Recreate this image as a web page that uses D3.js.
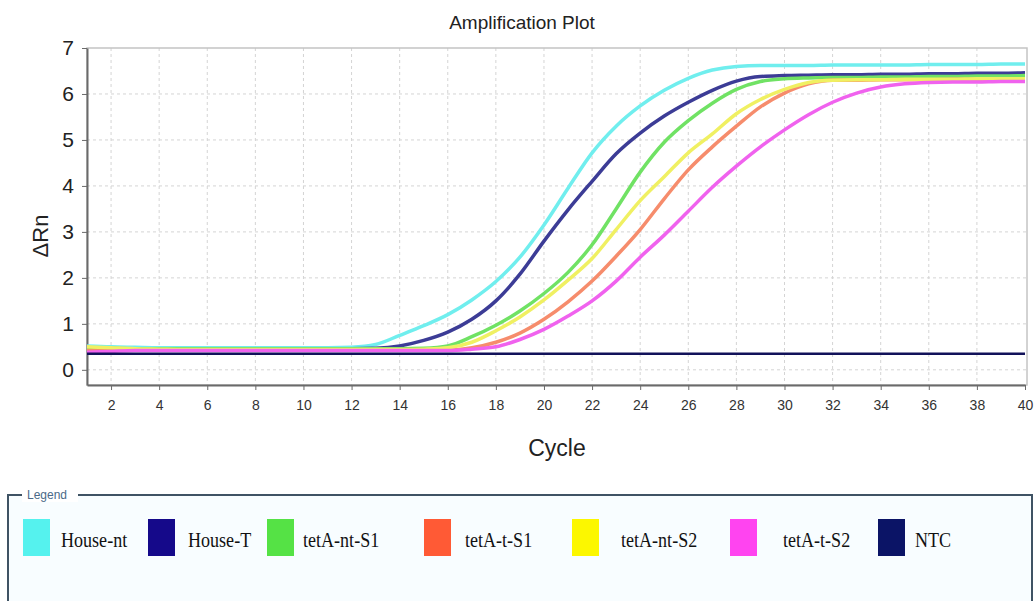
<!DOCTYPE html>
<html>
<head>
<meta charset="utf-8">
<title>Amplification Plot</title>
<script src="https://d3js.org/d3.v7.min.js"></script>
<style>
    body { margin: 0; background: #ffffff; }
    svg { display: block; font-family: "Liberation Sans", Arial, sans-serif; }
    .grid line { stroke: #d4d4d4; stroke-dasharray: 3,3; }
    .legendText { font-family: "Liberation Serif", "Times New Roman", serif; }
</style>
</head>
<body>
<svg id="chart" width="1035" height="601"></svg>
<script>
    // cycle numbers on the x axis
    var cycles = [1,2,3,4,5,6,7,8,9,10,11,12,13,14,15,16,17,18,19,20,
                  21,22,23,24,25,26,27,28,29,30,31,32,33,34,35,36,37,38,39,40];

    var houseNt = [0.52,0.50,0.49,0.48,0.48,0.48,0.48,0.48,0.48,0.48,0.48,0.49,
                   0.55,0.75,0.96,1.20,1.52,1.92,2.45,3.15,3.95,4.72,5.30,5.74,6.08,6.34,6.52,6.60,6.62,
                   6.62,6.62,6.63,6.63,6.63,6.63,6.64,6.64,6.64,6.65,6.65];
    var houseT = [0.44,0.45,0.46,0.46,0.46,0.46,0.46,0.46,0.46,0.46,0.46,0.46,0.47,
                  0.52,0.64,0.82,1.10,1.50,2.08,2.80,3.48,4.10,4.70,5.15,5.52,5.82,6.08,6.28,6.38,
                  6.40,6.41,6.42,6.42,6.43,6.43,6.44,6.44,6.45,6.45,6.46];
    var tetANtS1 = [0.48,0.47,0.46,0.46,0.46,0.46,0.46,0.46,0.46,0.46,0.46,0.46,0.46,0.46,0.47,
                    0.52,0.72,0.97,1.28,1.66,2.12,2.72,3.50,4.30,4.95,5.42,5.80,6.10,6.27,6.33,
                    6.35,6.36,6.36,6.37,6.37,6.38,6.38,6.39,6.39,6.40];
    var tetATS1 = [0.42,0.43,0.43,0.43,0.43,0.43,0.43,0.43,0.43,0.43,0.43,0.43,0.43,0.43,0.43,0.43,
                   0.48,0.60,0.80,1.10,1.48,1.93,2.47,3.05,3.72,4.35,4.85,5.30,5.72,6.02,6.22,6.30,
                   6.30,6.31,6.31,6.31,6.32,6.32,6.32,6.32];
    var tetANtS2 = [0.50,0.48,0.46,0.45,0.44,0.44,0.44,0.44,0.44,0.44,0.44,0.44,0.44,0.44,0.45,
                    0.48,0.60,0.85,1.15,1.52,1.95,2.42,3.05,3.68,4.20,4.72,5.13,5.57,5.88,6.10,6.25,6.30,
                    6.31,6.31,6.32,6.32,6.32,6.33,6.33,6.33];
    var tetATS2 = [0.38,0.40,0.42,0.42,0.42,0.42,0.42,0.42,0.42,0.42,0.42,0.42,0.42,0.42,0.42,0.42,
                   0.45,0.50,0.66,0.88,1.17,1.50,1.93,2.45,2.93,3.45,3.97,4.43,4.85,5.22,5.55,5.82,6.02,6.15,6.22,
                   6.25,6.26,6.26,6.27,6.27];
    var ntc = [0.35,0.35,0.35,0.35,0.35,0.35,0.35,0.35,0.35,0.35,0.35,0.35,0.35,0.35,0.35,0.35,0.35,0.35,0.35,0.35,
               0.35,0.35,0.35,0.35,0.35,0.35,0.35,0.35,0.35,0.35,0.35,0.35,0.35,0.35,0.35,0.35,0.35,0.35,0.35,0.35];

    var names = ["House-nt", "House-T", "tetA-nt-S1", "tetA-t-S1", "tetA-nt-S2", "tetA-t-S2", "NTC"];
    var seriesValues = [houseNt, houseT, tetANtS1, tetATS1, tetANtS2, tetATS2, ntc];
    var lineColors = ["#70eeee", "#3c3c96", "#70e264", "#f68c6c", "#f0f062", "#f062ee", "#12125a"];
    var swatchColors = ["#55f2ee", "#15098a", "#55e245", "#ff5a35", "#fcf700", "#ff44f0", "#0b1466"];

    var xTicks = [2,4,6,8,10,12,14,16,18,20,22,24,26,28,30,32,34,36,38,40];
    var yTicks = [0,1,2,3,4,5,6,7];

    // legend layout (x of each swatch / label)
    var legendSwatchX = [23, 148, 267, 424, 572, 730, 878];
    var legendLabelX = [61, 188, 303, 465, 621, 783, 915];

    var svg = d3.select("#chart");
    var pLeft = 87, pRight = 1027, pTop = 48, pBottom = 385;

    var x = d3.scaleLinear([1, 40], [pLeft, 1025]);
    var y = d3.scaleLinear([-0.33, 7], [pBottom, pTop]);

    svg.append("rect").attr("width", 1035).attr("height", 601).attr("fill", "#ffffff");

    // grid
    var grid = svg.append("g").attr("class", "grid");
    grid.selectAll(".vg").data(xTicks.filter(d => d < 40)).join("line")
        .attr("class", "vg")
        .attr("x1", d => x(d)).attr("x2", d => x(d))
        .attr("y1", pTop).attr("y2", pBottom);
    grid.selectAll(".hg").data(yTicks.filter(d => d < 7)).join("line")
        .attr("class", "hg")
        .attr("x1", pLeft).attr("x2", pRight)
        .attr("y1", d => y(d)).attr("y2", d => y(d));

    // frame: light top/right, darker axes
    svg.append("rect").attr("x", pLeft).attr("y", pTop)
        .attr("width", pRight - pLeft).attr("height", pBottom - pTop)
        .attr("fill", "none").attr("stroke", "#c4c4c4").attr("stroke-width", 1.5);

    var xAxis = svg.append("g")
        .attr("transform", "translate(0," + pBottom + ")")
        .call(d3.axisBottom(x).tickValues(xTicks).tickSize(5).tickSizeOuter(0).tickPadding(10));
    var yAxis = svg.append("g")
        .attr("transform", "translate(" + pLeft + ",0)")
        .call(d3.axisLeft(y).tickValues(yTicks).tickSize(5).tickSizeOuter(0).tickPadding(8));

    xAxis.select(".domain").attr("stroke", "#6a6a6a").attr("stroke-width", 2);
    yAxis.select(".domain").attr("stroke", "#6a6a6a").attr("stroke-width", 2);
    xAxis.selectAll(".tick line").attr("stroke", "#6a6a6a");
    yAxis.selectAll(".tick line").attr("stroke", "#6a6a6a");
    xAxis.selectAll(".tick text")
        .attr("font-size", 14).attr("fill", "#333")
        .attr("font-family", "'Liberation Sans', Arial, sans-serif");
    yAxis.selectAll(".tick text")
        .attr("font-size", 21).attr("fill", "#222")
        .attr("font-family", "'Liberation Sans', Arial, sans-serif");

    // curves
    var line = d3.line()
        .x((d, i) => x(cycles[i]))
        .y(d => y(d))
        .curve(d3.curveMonotoneX);

    svg.append("g").selectAll("path")
        .data(seriesValues)
        .join("path")
        .attr("d", d => line(d))
        .attr("fill", "none")
        .attr("stroke", (d, i) => lineColors[i])
        .attr("stroke-width", (d, i) => i == 6 ? 2.5 : 3.5)
        .attr("stroke-linejoin", "round");

    // titles
    svg.append("text").attr("x", 522).attr("y", 29)
        .attr("text-anchor", "middle").attr("font-size", 19).attr("fill", "#222")
        .text("Amplification Plot");
    svg.append("text").attr("x", 557).attr("y", 456)
        .attr("text-anchor", "middle").attr("font-size", 23).attr("fill", "#222")
        .text("Cycle");
    svg.append("text")
        .attr("transform", "translate(48,236) rotate(-90)")
        .attr("text-anchor", "middle").attr("font-size", 22).attr("fill", "#222")
        .text("\u0394Rn");

    // legend box
    var lg = svg.append("g");
    lg.append("rect").attr("x", 8).attr("y", 495).attr("width", 1024).attr("height", 120)
        .attr("fill", "#f8fdff").attr("stroke", "#3f5364").attr("stroke-width", 2);
    lg.append("rect").attr("x", 22).attr("y", 486).attr("width", 56).attr("height", 16)
        .attr("fill", "#ffffff");
    lg.append("text").attr("x", 27).attr("y", 499).attr("font-size", 12)
        .attr("fill", "#4a6a88").text("Legend");

    lg.selectAll(".sw").data(names).join("rect")
        .attr("class", "sw")
        .attr("x", (d, i) => legendSwatchX[i]).attr("y", 519)
        .attr("width", 27).attr("height", 37)
        .attr("fill", (d, i) => swatchColors[i]);
    lg.selectAll(".legendText").data(names).join("text")
        .attr("class", "legendText")
        .attr("transform", (d, i) => "translate(" + legendLabelX[i] + ",547) scale(0.86,1)")
        .attr("font-size", 21).attr("fill", "#111")
        .text(d => d);
</script>
</body>
</html>
